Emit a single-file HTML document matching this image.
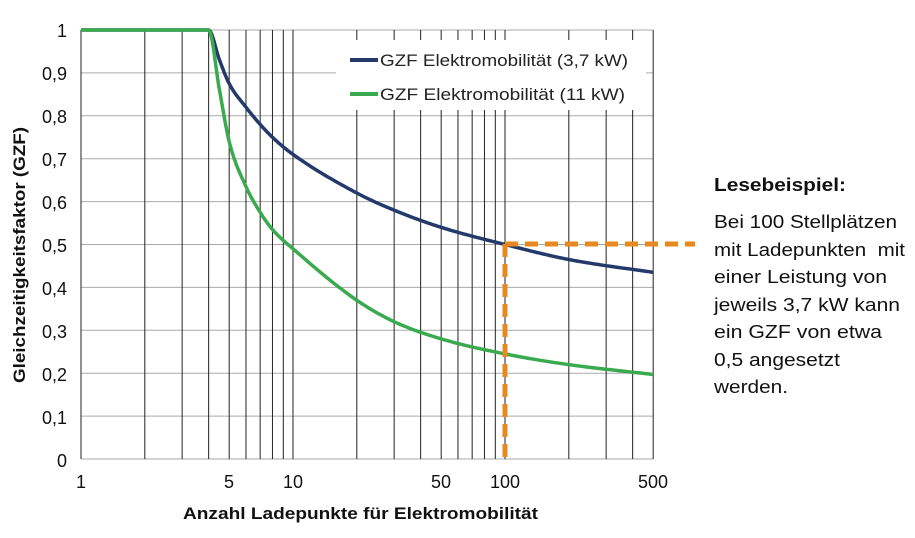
<!DOCTYPE html>
<html><head><meta charset="utf-8"><style>
body{margin:0;background:#fff;width:915px;height:533px;overflow:hidden;font-family:"Liberation Sans",sans-serif}
</style></head><body>
<svg id="s" width="915" height="533" xmlns="http://www.w3.org/2000/svg" font-family="Liberation Sans, sans-serif">
<g id="grid"></g>
<rect x="336" y="40" width="310" height="70" fill="#fff"/>
<g id="curves"></g>
<line x1="505" y1="244" x2="695" y2="244" stroke="#e8891e" stroke-width="5" stroke-dasharray="13,7"/>
<line x1="505" y1="244" x2="505" y2="459" stroke="#e8891e" stroke-width="5" stroke-dasharray="13,7"/>
<line x1="350" y1="60" x2="378" y2="60" stroke="#243a6b" stroke-width="4"/>
<text x="380" y="66" font-size="17" fill="#222" textLength="248" lengthAdjust="spacingAndGlyphs">GZF Elektromobilität (3,7 kW)</text>
<line x1="350" y1="94" x2="378" y2="94" stroke="#3aaa4f" stroke-width="4"/>
<text x="380" y="100" font-size="17" fill="#222" textLength="245" lengthAdjust="spacingAndGlyphs">GZF Elektromobilität (11 kW)</text>
<g font-size="18" fill="#111" text-anchor="end">
<text x="67" y="37">1</text><text x="67" y="80">0,9</text><text x="67" y="123">0,8</text><text x="67" y="166">0,7</text><text x="67" y="209">0,6</text><text x="67" y="252">0,5</text><text x="67" y="295">0,4</text><text x="67" y="338">0,3</text><text x="67" y="381">0,2</text><text x="67" y="424">0,1</text><text x="67" y="467">0</text>
</g>
<g font-size="18" fill="#111" text-anchor="middle">
<text x="81" y="488">1</text><text x="229" y="488">5</text><text x="293" y="488">10</text><text x="441" y="488">50</text><text x="505" y="488">100</text><text x="653" y="488">500</text>
</g>
<text x="183" y="519" font-size="17" font-weight="bold" fill="#111" textLength="355" lengthAdjust="spacingAndGlyphs">Anzahl Ladepunkte für Elektromobilität</text>
<text transform="translate(25,383) rotate(-90)" font-size="17" font-weight="bold" fill="#111" textLength="256" lengthAdjust="spacingAndGlyphs">Gleichzeitigkeitsfaktor (GZF)</text>
<g font-size="18" fill="#111" lengthAdjust="spacingAndGlyphs">
<text x="714" y="191" font-weight="bold" textLength="132" lengthAdjust="spacingAndGlyphs">Lesebeispiel:</text>
<text x="714" y="228" textLength="183" lengthAdjust="spacingAndGlyphs">Bei 100 Stellplätzen</text>
<text x="714" y="256" textLength="191" lengthAdjust="spacingAndGlyphs">mit Ladepunkten&#160; mit</text>
<text x="714" y="283" textLength="173" lengthAdjust="spacingAndGlyphs">einer Leistung von</text>
<text x="714" y="311" textLength="186" lengthAdjust="spacingAndGlyphs">jeweils 3,7 kW kann</text>
<text x="714" y="338" textLength="168" lengthAdjust="spacingAndGlyphs">ein GZF von etwa</text>
<text x="714" y="366" textLength="126" lengthAdjust="spacingAndGlyphs">0,5 angesetzt</text>
<text x="714" y="393" textLength="74" lengthAdjust="spacingAndGlyphs">werden.</text>
</g>
</svg>
<script>
function X(n){return 81+212*Math.log10(n);}
function Y(v){return 459-429*v;}
var g=document.getElementById('grid'),h='';
for(var i=0;i<=10;i++){var y=Y(i/10);h+='<line x1="81" x2="653" y1="'+y+'" y2="'+y+'" stroke="#aaa" stroke-width="1"/>';}
var ns=[1,2,3,4,5,6,7,8,9,10,20,30,40,50,60,70,80,90,100,200,300,400,500];
ns.forEach(function(n){var x=X(n);h+='<line x1="'+x+'" x2="'+x+'" y1="30" y2="459" stroke="#222" stroke-width="1"/>';});
g.innerHTML=h;
function curve(pts,col){
 var xs=pts.map(function(p){return Math.log10(p[0]);}),ys=pts.map(function(p){return p[1];});
 var n=pts.length,m=[];
 for(var i=0;i<n;i++){var a=i>0?(ys[i]-ys[i-1])/(xs[i]-xs[i-1]):null,b=i<n-1?(ys[i+1]-ys[i])/(xs[i+1]-xs[i]):null;
  m[i]=a===null?b:b===null?a:(a*b<=0?0:(a+b)/2);}
 var d='';
 for(var i=0;i<n-1;i++){var hh=xs[i+1]-xs[i];
  for(var k=0;k<=20;k++){var t=k/20,t2=t*t,t3=t2*t;
   var v=(2*t3-3*t2+1)*ys[i]+(t3-2*t2+t)*hh*m[i]+(-2*t3+3*t2)*ys[i+1]+(t3-t2)*hh*m[i+1];
   var lx=xs[i]+t*hh;d+=(d?'L':'M')+(81+212*lx).toFixed(1)+','+Y(v).toFixed(1);}}
 return '<path d="'+d+'" fill="none" stroke="'+col+'" stroke-width="3.5" stroke-linejoin="round"/>';
}
var blue=[[1,1],[4,1],[4.5,0.93],[5,0.875],[6,0.82],[7,0.78],[8,0.75],[10,0.71],[20,0.62],[30,0.58],[50,0.54],[100,0.5],[200,0.465],[500,0.435]];
var green=[[1,1],[4,1],[4.5,0.86],[5,0.74],[6,0.635],[7,0.575],[8,0.535],[10,0.49],[20,0.37],[30,0.32],[50,0.28],[100,0.245],[200,0.22],[500,0.197]];
document.getElementById('curves').innerHTML=curve(blue,'#243a6b')+curve(green,'#3aaa4f');
</script>
</body></html>
